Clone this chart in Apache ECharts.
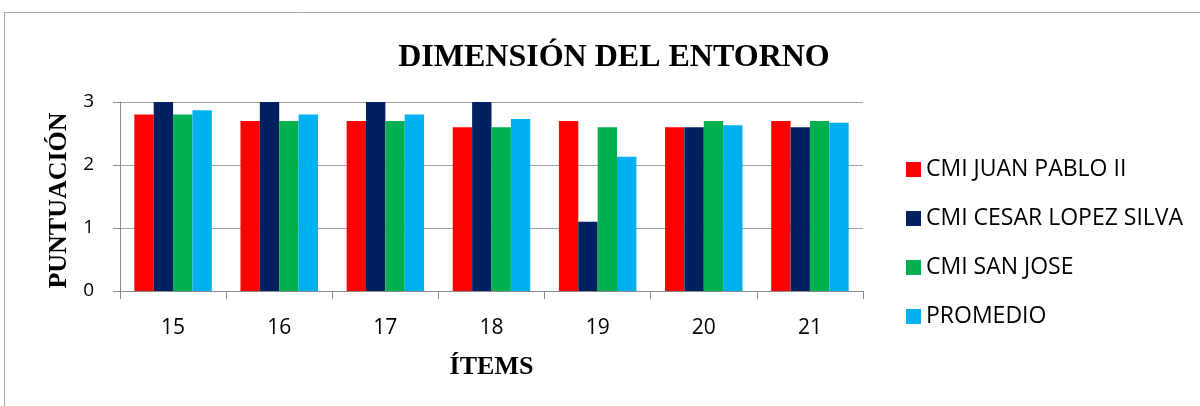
<!DOCTYPE html>
<html>
<head>
<meta charset="utf-8">
<script src="https://cdn.jsdelivr.net/npm/echarts@6/dist/echarts.min.js"></script>
<style>
  html, body { margin: 0; padding: 0; background: #fff; }
  #chart { width: 1200px; height: 406px; }
</style>
</head>
<body>
<div id="chart"></div>
<script>
    "use strict";

    var items = ['15', '16', '17', '18', '19', '20', '21'];
    var juanPablo = [2.8, 2.7, 2.7, 2.6, 2.7, 2.6, 2.7];
    var cesarLopez = [3, 3, 3, 3, 1.1, 2.6, 2.6];
    var sanJose = [2.8, 2.7, 2.7, 2.6, 2.6, 2.7, 2.7];
    var promedio = [2.87, 2.8, 2.8, 2.73, 2.13, 2.63, 2.67];
    var seriesNames = ['CMI JUAN PABLO II', 'CMI CESAR LOPEZ SILVA', 'CMI SAN JOSE', 'PROMEDIO'];

    var labelFont = '"Open Sans", "Noto Sans", sans-serif';
    var serifFont = '"Liberation Serif", "DejaVu Serif", serif';

    var chart = echarts.init(document.getElementById('chart'));
    var option = {
        animation: false,
        color: ['#ff0000', '#002060', '#00b050', '#00b0f0'],

        // frame around the chart
        graphic: [{
            type: 'rect',
            shape: { x: 4.5, y: 12.5, width: 1300, height: 500 },
            style: { fill: 'none', stroke: '#a6a6a6', lineWidth: 1 },
            silent: true
        }],

        title: {
            text: 'DIMENSIÓN DEL ENTORNO',
            left: 609,
            textAlign: 'center',
            top: 37,
            textStyle: {
                fontFamily: serifFont,
                fontWeight: 'bold',
                fontSize: 32,
                color: '#000'
            }
        },

        legend: {
            orient: 'vertical',
            left: 901,
            top: 153,
            itemWidth: 15,
            itemHeight: 15,
            itemGap: 26,
            icon: 'rect',
            data: seriesNames,
            textStyle: { fontFamily: labelFont, fontSize: 23, color: '#000', padding: [0, 0, 0, 0] }
        },

        grid: { left: 120, right: 337, top: 102, bottom: 115 },

        xAxis: {
            type: 'category',
            data: items,
            name: 'ÍTEMS',
            nameLocation: 'middle',
            nameGap: 63,
            nameTextStyle: { fontFamily: serifFont, fontWeight: 'bold', fontSize: 26, color: '#000' },
            axisLine: { lineStyle: { color: '#8c8c8c' } },
            axisTick: { show: true, alignWithLabel: false, length: 8, lineStyle: { color: '#8c8c8c' } },
            axisLabel: { fontFamily: labelFont, fontSize: 21, color: '#000', margin: 27 }
        },

        yAxis: {
            type: 'value',
            min: 0,
            max: 3,
            interval: 1,
            name: 'PUNTUACIÓN',
            nameLocation: 'middle',
            nameGap: 46,
            nameTextStyle: { fontFamily: serifFont, fontWeight: 'bold', fontSize: 26, color: '#000', padding: [0, 8, 0, 0] },
            axisLine: { show: true, lineStyle: { color: '#8c8c8c' } },
            axisTick: { show: true, length: 7, lineStyle: { color: '#8c8c8c' } },
            axisLabel: { fontFamily: labelFont, fontSize: 19, color: '#000', margin: 26 },
            splitLine: { lineStyle: { color: '#a0a0a0' } }
        },

        series: [
            { name: seriesNames[0], type: 'bar', data: juanPablo, barGap: '0%', barCategoryGap: '27%' },
            { name: seriesNames[1], type: 'bar', data: cesarLopez },
            { name: seriesNames[2], type: 'bar', data: sanJose },
            { name: seriesNames[3], type: 'bar', data: promedio }
        ]
    };

    chart.setOption(option);
</script>
</body>
</html>
